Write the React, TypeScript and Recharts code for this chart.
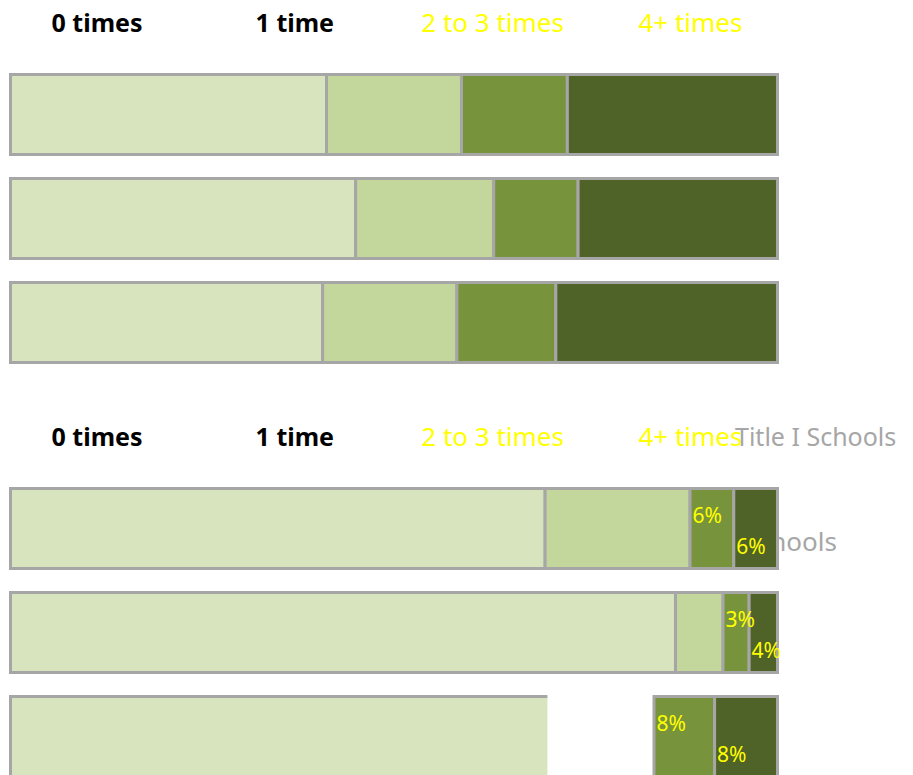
import React from 'react';
import { BarChart, Bar, XAxis, YAxis, Cell, LabelList, Customized } from 'recharts';

// ---- data ----
const categories = ['0 times', '1 time', '2 to 3 times', '4+ times'];
const seriesKeys = ['zero', 'one', 'twoThree', 'fourPlus'];
const rows = ['Group 1', 'Group 2', 'Group 3'];

const topZero = [41.2, 45, 40.7];
const topOne = [17.6, 18, 17.5];
const topTwoThree = [13.8, 11, 12.9];
const topFourPlus = [27.4, 26, 28.9];

const bottomZero = [69.7, 86.7, 70.0];
const bottomOne = [18.9, 6.2, 13.9];
const bottomTwoThree = [5.7, 3.4, 7.9];
const bottomFourPlus = [5.7, 3.7, 8.2];

const bottomTitle = 'Title I Schools';
const bottomHiddenLabel = 'Non-Title I Schools';

// ---- styles ----
const FONT = "'Noto Sans', sans-serif";
const STROKE = '#A6A6A6';
const fills = ['#D7E4BD', '#C3D69B', '#77933C', '#4F6228'];
const legendColors = ['#000000', '#000000', '#FFFF00', '#FFFF00'];
const legendWeights = [700, 700, 400, 400];
const legendSizes = [25, 25, 26, 26];
const W = 913;
const H = 414;

const buildData = (a: number[], b: number[], c: number[], d: number[]) =>
  rows.map((row, i) => ({ row, zero: a[i], one: b[i], twoThree: c[i], fourPlus: d[i] }));

const topData = buildData(topZero, topOne, topTwoThree, topFourPlus);
const bottomData = buildData(bottomZero, bottomOne, bottomTwoThree, bottomFourPlus);

const Legend = () => (
  <g>
    {categories.map((c, i) => (
      <text
        key={c}
        x={97 + i * 197.8}
        y={32}
        textAnchor="middle"
        fontFamily={FONT}
        fontSize={legendSizes[i]}
        fontWeight={legendWeights[i]}
        fill={legendColors[i]}
      >
        {c}
      </text>
    ))}
  </g>
);

const makeShape = (hiddenIdx: number | null, openRightIdx: number | null) => (props: any) => {
  const { x, y, width, height, fill, index } = props;
  if (index === hiddenIdx) return <g />;
  if (index === openRightIdx) {
    return (
      <g>
        <rect x={x} y={y} width={width} height={height} fill={fill} />
        <path
          d={`M${x + width},${y} L${x},${y} L${x},${y + height} L${x + width},${y + height}`}
          fill="none"
          stroke={STROKE}
          strokeWidth={3}
        />
      </g>
    );
  }
  return <rect x={x} y={y} width={width} height={height} fill={fill} stroke={STROKE} strokeWidth={3} />;
};

const makeLabel = (dy: number) => (props: any) => {
  const { x, y, value } = props;
  return (
    <text x={Number(x) + 2.5} y={Number(y) + dy} fontFamily={FONT} fontSize={21} fill="#FFFF00">
      {`${Math.round(Number(value))}%`}
    </text>
  );
};

const Chart = ({ data, bottom }: { data: any[]; bottom: boolean }) => (
  <BarChart
    width={W}
    height={H}
    data={data}
    layout="vertical"
    margin={{ top: 62.5, right: 135.5, bottom: 39.5, left: 10.5 }}
    barSize={80}
  >
    <XAxis type="number" domain={[0, 100]} hide />
    <YAxis type="category" dataKey="row" hide />
    <Customized component={Legend} />
    {bottom && (
      <Customized
        component={() => (
          <g>
            <text x={837} y={137} textAnchor="end" fontFamily={FONT} fontSize={26} fill={STROKE}>
              {bottomHiddenLabel}
            </text>
          </g>
        )}
      />
    )}
    {seriesKeys.map((k, si) => (
      <Bar
        key={k}
        dataKey={k}
        name={categories[si]}
        stackId="a"
        fill={fills[si]}
        isAnimationActive={false}
        shape={makeShape(bottom && si === 1 ? 2 : null, bottom && si === 0 ? 2 : null)}
      >
        {data.map((_, i) => (
          <Cell key={i} fill={fills[si]} />
        ))}
        {bottom && si === 2 && <LabelList dataKey={k} content={makeLabel(34.5)} />}
        {bottom && si === 3 && <LabelList dataKey={k} content={makeLabel(65.5)} />}
      </Bar>
    ))}
    {bottom && (
      <Customized
        component={() => (
          <text x={735} y={32} fontFamily={FONT} fontSize={25} fill={STROKE}>
            {bottomTitle}
          </text>
        )}
      />
    )}
  </BarChart>
);

export default function App() {
  return (
    <div
      style={{
        position: 'absolute',
        left: 0,
        top: 0,
        width: W,
        height: 775,
        overflow: 'hidden',
        background: '#ffffff',
      }}
    >
      <Chart data={topData} bottom={false} />
      <Chart data={bottomData} bottom={true} />
    </div>
  );
}
